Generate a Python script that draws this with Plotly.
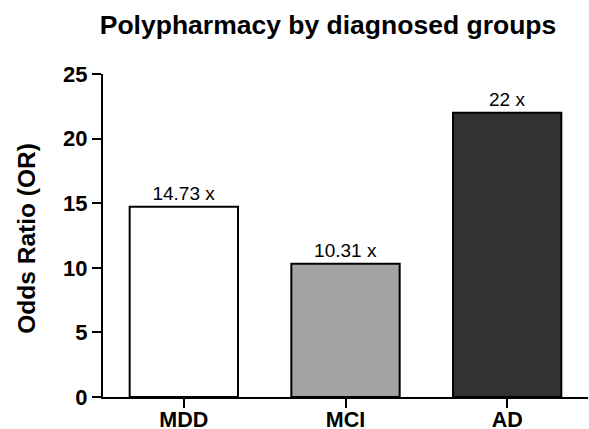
import plotly.graph_objects as go

categories = ["MDD", "MCI", "AD"]
odds_ratio = [14.73, 10.31, 22.0]
bar_labels = ["14.73 x", "10.31 x", "22 x"]
bar_colors = ["#ffffff", "#a3a3a5", "#323232"]
y_ticks = [0, 5, 10, 15, 20, 25]

FONT = "Liberation Sans, Arial, Helvetica, sans-serif"

fig = go.Figure()
fig.add_trace(go.Bar(
    x=categories,
    y=odds_ratio,
    width=0.67,
    marker=dict(color=bar_colors, line=dict(color="#000000", width=2)),
    text=bar_labels,
    textposition="outside",
    textfont=dict(family=FONT, size=19, color="#000000"),
    cliponaxis=False,
    hoverinfo="skip",
))

fig.update_layout(
    template="none",
    width=589,
    height=429,
    margin=dict(l=103, r=1, t=74, b=32, autoexpand=False),
    paper_bgcolor="#ffffff",
    plot_bgcolor="#ffffff",
    showlegend=False,
    font=dict(family=FONT, color="#000000"),
    title=dict(
        text="Polypharmacy by diagnosed groups",
        font=dict(family=FONT, size=26.5, color="#000000", weight="bold"),
        x=328 / 589,
        xanchor="center",
        xref="container",
        y=1 - 25 / 429,
        yanchor="middle",
        yref="container",
    ),
    xaxis=dict(
        type="category",
        range=[-0.5, 2.5],
        automargin=False,
        showline=True,
        linecolor="#000000",
        linewidth=2,
        ticks="outside",
        ticklen=9,
        tickwidth=2,
        tickcolor="#000000",
        ticklabelstandoff=-7,
        showgrid=False,
        zeroline=False,
        tickfont=dict(family=FONT, size=21.5, color="#000000", weight="bold"),
    ),
    yaxis=dict(
        range=[0, 25],
        tickvals=y_ticks,
        automargin=False,
        showline=True,
        linecolor="#000000",
        linewidth=2,
        ticks="outside",
        ticklen=9,
        tickwidth=2,
        tickcolor="#000000",
        showgrid=False,
        zeroline=False,
        tickfont=dict(family=FONT, size=22, color="#000000", weight="bold"),
    ),
    annotations=[dict(
        text="Odds Ratio (OR)",
        xref="paper", yref="paper",
        x=(27 - 103) / 485, y=0.49,
        xanchor="center", yanchor="middle",
        textangle=-90,
        showarrow=False,
        font=dict(family=FONT, size=24.5, color="#000000", weight="bold"),
    )],
)

fig.write_html(
    "out.html",
    config={"displayModeBar": False},
    post_script="document.body.style.margin='0';document.body.style.overflow='hidden';",
)
